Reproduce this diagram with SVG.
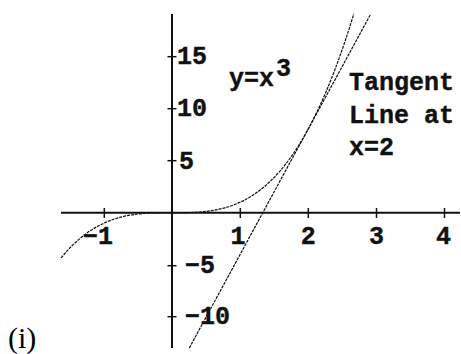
<svg xmlns="http://www.w3.org/2000/svg" width="461" height="354" viewBox="0 0 461 354">
<style>
.ax{stroke:#111;stroke-width:2;fill:none}
.tk{stroke:#111;stroke-width:1.5;fill:none}
.cv{stroke:#111;stroke-width:1.2;fill:none;stroke-dasharray:3 1}
.lb{font-family:"Liberation Mono",monospace;font-weight:bold;font-size:25px;fill:#111;stroke:#111;stroke-width:0.4}
.cap{font-family:"Liberation Serif",serif;font-size:30px;fill:#000}
</style>
<rect width="461" height="354" fill="#fff"/>
<g id="axes">
<line class="ax" x1="61" y1="212.7" x2="460" y2="212.7"/>
<line class="ax" x1="172" y1="14" x2="172" y2="348"/>
<g id="xticks">
<line class="tk" x1="104.3" y1="208" x2="104.3" y2="218"/>
<line class="tk" x1="240.3" y1="208" x2="240.3" y2="218"/>
<line class="tk" x1="308.3" y1="208" x2="308.3" y2="218"/>
<line class="tk" x1="376.5" y1="208" x2="376.5" y2="218"/>
<line class="tk" x1="444.5" y1="208" x2="444.5" y2="218"/>
</g>
<g id="yticks">
<line class="tk" x1="167.5" y1="56.7" x2="176.5" y2="56.7"/>
<line class="tk" x1="167.5" y1="108.7" x2="176.5" y2="108.7"/>
<line class="tk" x1="167.5" y1="160.7" x2="176.5" y2="160.7"/>
<line class="tk" x1="167.5" y1="265.7" x2="176.5" y2="265.7"/>
<line class="tk" x1="167.5" y1="316.7" x2="176.5" y2="316.7"/>
</g>
</g>
<g id="ticklabels">
<text class="lb" x="113" y="244" text-anchor="end">−1</text>
<text class="lb" x="238" y="244" text-anchor="middle">1</text>
<text class="lb" x="308.3" y="244" text-anchor="middle">2</text>
<text class="lb" x="376.5" y="244" text-anchor="middle">3</text>
<text class="lb" x="443.5" y="244" text-anchor="middle">4</text>
<text class="lb" x="177" y="64">15</text>
<text class="lb" x="177" y="116">10</text>
<text class="lb" x="179" y="168.5">5</text>
<text class="lb" x="185" y="273">−5</text>
<text class="lb" x="185" y="324">−10</text>
</g>
<g id="connectors">
<path id="cubic" class="cv" d="M61,257.96 C158.61,138.57 256.22,334.13 353.83,13.79"/>
<line id="tangent" class="cv" x1="189.3" y1="348" x2="370.7" y2="14"/>
</g>
<g id="label-cubic">
<text class="lb" x="229" y="86">y=x</text>
<text class="lb" x="276" y="76">3</text>
</g>
<g id="label-tangent">
<text class="lb" x="349" y="90">Tangent</text>
<text class="lb" x="349" y="122.5">Line at</text>
<text class="lb" x="349" y="155">x=2</text>
</g>
<text class="cap" x="8" y="348">(i)</text>
</svg>
